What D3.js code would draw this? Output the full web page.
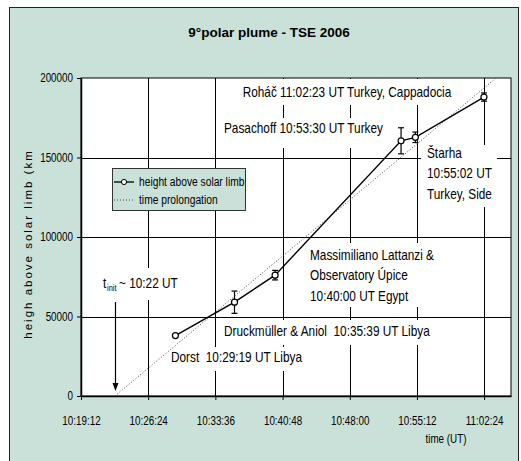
<!DOCTYPE html>
<html>
<head>
<meta charset="utf-8">
<script src="https://cdn.jsdelivr.net/npm/d3@7"></script>
<style>
  body { margin: 0; background: #fff; }
  svg text { font-family: 'Liberation Sans', Arial, sans-serif; fill: #000; white-space: pre; }
</style>
</head>
<body>
<svg class="chart" width="521" height="461"></svg>
<script>
// observation times (UT) and plume heights (km) with error bars
const times = ['10:29:19', '10:35:39', '10:40:00', '10:53:30', '10:55:02', '11:02:23'];
const heights = [38000, 59000, 76000, 160500, 162700, 188000];
const errors = [0, 7000, 3000, 8200, 3300, 2600];

// dotted time prolongation (linear fit, extrapolated)
const trendTimes = ['10:22:50', '11:03:40'];
const trendHeights = [0, 200000];

const xTicks = ['10:19:12', '10:26:24', '10:33:36', '10:40:48', '10:48:00', '10:55:12', '11:02:24'];
const yTicks = [0, 50000, 100000, 150000, 200000];

const labels = [
  ['Roháč 11:02:23 UT Turkey, Cappadocia'],
  ['Pasachoff 10:53:30 UT Turkey'],
  ['Štarha', '10:55:02 UT', 'Turkey, Side'],
  ['Massimiliano Lattanzi &', 'Observatory Úpice', '10:40:00 UT Egypt'],
  ['Druckmüller & Aniol  10:35:39 UT Libya'],
  ['Dorst  10:29:19 UT Libya']
];

const toSec = s => { const p = s.split(':').map(Number); return p[0] * 3600 + p[1] * 60 + p[2]; };

// no narrow font installed: squeeze Arial-metric text to Arial Narrow width
function narrow(sel, k = 0.82) {
  sel.each(function () {
    const len = this.getComputedTextLength();
    d3.select(this).attr('textLength', len * k).attr('lengthAdjust', 'spacingAndGlyphs');
  });
}

const bg = '#c9e1d8';
const svg = d3.select('.chart');

svg.append('rect')
  .attr('x', 9.5).attr('y', 7.5).attr('width', 509).attr('height', 470)
  .attr('fill', bg).attr('stroke', '#222');

const plot = {left: 81, right: 511, top: 78, bottom: 396};

const x = d3.scaleLinear()
  .domain([toSec('10:19:12'), toSec('11:05:16') + 0.8])
  .range([plot.left, plot.right]);
const y = d3.scaleLinear().domain([0, 200000]).range([plot.bottom, plot.top]);

svg.append('rect')
  .attr('x', plot.left).attr('y', plot.top)
  .attr('width', plot.right - plot.left).attr('height', plot.bottom - plot.top)
  .attr('fill', '#fff').attr('stroke', '#000');

// gridlines
const grid = svg.append('g').attr('stroke', '#000').attr('stroke-width', 1);
grid.selectAll('.vg').data(xTicks.slice(1)).enter().append('line')
  .attr('x1', d => Math.round(x(toSec(d))) + 0.5).attr('x2', d => Math.round(x(toSec(d))) + 0.5)
  .attr('y1', plot.top).attr('y2', plot.bottom);
grid.selectAll('.hg').data(yTicks.slice(1, -1)).enter().append('line')
  .attr('y1', d => Math.round(y(d)) + 0.5).attr('y2', d => Math.round(y(d)) + 0.5)
  .attr('x1', plot.left).attr('x2', plot.right);

// axes
const xAxis = d3.axisBottom(x)
  .tickValues(xTicks.map(toSec))
  .tickSize(4).tickSizeOuter(0)
  .tickFormat((d, i) => xTicks[i]);
const gx = svg.append('g').attr('transform', `translate(0,${plot.bottom})`).call(xAxis);
gx.attr('font-family', null);
gx.select('.domain').attr('stroke', '#000').attr('stroke-width', 1.5);
gx.selectAll('text').attr('font-size', 12).attr('dy', '1.8em').call(narrow);

const yAxis = d3.axisLeft(y).tickValues(yTicks).tickSize(4).tickSizeOuter(0).tickFormat(d3.format('d'));
const gy = svg.append('g').attr('transform', `translate(${plot.left},0)`).call(yAxis);
gy.attr('font-family', null);
gy.select('.domain').attr('stroke', '#000').attr('stroke-width', 1.5);
gy.selectAll('text').attr('font-size', 12).attr('x', -8).call(narrow);

// annotation boxes (white fill hides the grid under the text)
const boxes = [
  {x: 238, y: 79, w: 218, h: 26, tx: 347, ty: 97, anchor: 'middle'},
  {x: 221, y: 118, w: 165, h: 30, tx: 224, ty: 133, anchor: 'start'},
  {x: 421, y: 145, w: 76, h: 62, tx: 427, ty: 158, anchor: 'start'},
  {x: 305, y: 243, w: 150, h: 64, tx: 310, ty: 260, anchor: 'start'},
  {x: 221, y: 320, w: 216, h: 25, tx: 224, ty: 336, anchor: 'start'},
  {x: 168, y: 347, w: 137, h: 24, tx: 171, ty: 362, anchor: 'start'}
];
const ann = svg.append('g');
labels.forEach((lines, i) => {
  const b = boxes[i];
  ann.append('rect').attr('x', b.x).attr('y', b.y).attr('width', b.w).attr('height', b.h).attr('fill', '#fff');
  lines.forEach((l, j) => {
    ann.append('text').attr('x', b.tx).attr('y', b.ty + j * 20.3)
      .attr('font-size', 14.4).attr('text-anchor', b.anchor).text(l).call(narrow);
  });
});

// t_init label and arrow
const tinit = toSec(trendTimes[0]);
ann.append('rect').attr('x', 100).attr('y', 268).attr('width', 86).attr('height', 32).attr('fill', '#fff');
ann.append('text').attr('x', 103).attr('y', 288).attr('font-size', 14.4).text('t').call(narrow);
ann.append('text').attr('x', 107).attr('y', 291).attr('font-size', 9).text('init').call(narrow);
ann.append('text').attr('x', 119).attr('y', 288).attr('font-size', 14.4).text('~ 10:22 UT').call(narrow);

const ax = Math.round(x(tinit)) + 0.5;
svg.append('line')
  .attr('x1', ax).attr('x2', ax).attr('y1', 302).attr('y2', 386)
  .attr('stroke', '#000').attr('stroke-width', 1.2);
svg.append('path')
  .attr('d', `M${ax - 3},383L${ax + 3},383L${ax},391Z`).attr('fill', '#000');

// clip the trend line to the plot area
svg.append('clipPath').attr('id', 'clip').append('rect')
  .attr('x', plot.left).attr('y', plot.top).attr('width', plot.right - plot.left).attr('height', plot.bottom - plot.top);

const trend = trendTimes.map((t, i) => [toSec(t), trendHeights[i]]);
svg.append('path')
  .attr('clip-path', 'url(#clip)')
  .attr('d', d3.line().x(d => x(d[0])).y(d => y(d[1]))(trend))
  .attr('fill', 'none').attr('stroke', '#444').attr('stroke-width', 1).attr('stroke-dasharray', '1,2');

const data = times.map((t, i) => ({t: toSec(t), h: heights[i], e: errors[i]}));

// error bars
const eb = svg.append('g').attr('stroke', '#000').attr('stroke-width', 1.2);
data.filter(d => d.e > 0).forEach(d => {
  const cx = x(d.t);
  eb.append('line').attr('x1', cx).attr('x2', cx).attr('y1', y(d.h - d.e)).attr('y2', y(d.h + d.e));
  eb.append('line').attr('x1', cx - 3).attr('x2', cx + 3).attr('y1', y(d.h - d.e)).attr('y2', y(d.h - d.e));
  eb.append('line').attr('x1', cx - 3).attr('x2', cx + 3).attr('y1', y(d.h + d.e)).attr('y2', y(d.h + d.e));
});

svg.append('path')
  .attr('d', d3.line().x(d => x(d.t)).y(d => y(d.h))(data))
  .attr('fill', 'none').attr('stroke', '#000').attr('stroke-width', 1.4);

svg.selectAll('.pt').data(data).enter().append('circle')
  .attr('cx', d => x(d.t)).attr('cy', d => y(d.h)).attr('r', 3)
  .attr('fill', '#fff').attr('stroke', '#000').attr('stroke-width', 1.2);

// legend
const lg = svg.append('g');
lg.append('rect').attr('x', 112.5).attr('y', 168.5).attr('width', 133).attr('height', 42)
  .attr('fill', bg).attr('stroke', '#333');
lg.append('line').attr('x1', 114).attr('x2', 134).attr('y1', 182).attr('y2', 182).attr('stroke', '#000').attr('stroke-width', 1.3);
lg.append('circle').attr('cx', 124).attr('cy', 182).attr('r', 2.6).attr('fill', '#fff').attr('stroke', '#000');
lg.append('line').attr('x1', 114).attr('x2', 135).attr('y1', 200).attr('y2', 200)
  .attr('stroke', '#444').attr('stroke-dasharray', '1,2');
lg.append('text').attr('x', 139).attr('y', 186).attr('font-size', 12.5).text('height above solar limb').call(narrow);
lg.append('text').attr('x', 139).attr('y', 204).attr('font-size', 12.5).text('time prolongation').call(narrow);

// titles
svg.append('text').attr('x', 269).attr('y', 37).attr('text-anchor', 'middle')
  .attr('font-size', 13.5).attr('font-weight', 'bold')
  .text('9°polar plume - TSE 2006');
svg.append('text').attr('x', 446).attr('y', 443).attr('text-anchor', 'middle').attr('font-size', 12)
  .text('time (UT)').call(narrow);
svg.append('text').attr('transform', 'translate(32,244) rotate(-90)').attr('text-anchor', 'middle')
  .attr('font-size', 11.5).attr('letter-spacing', 2)
  .text('heigh above solar limb (km');
</script>
</body>
</html>
